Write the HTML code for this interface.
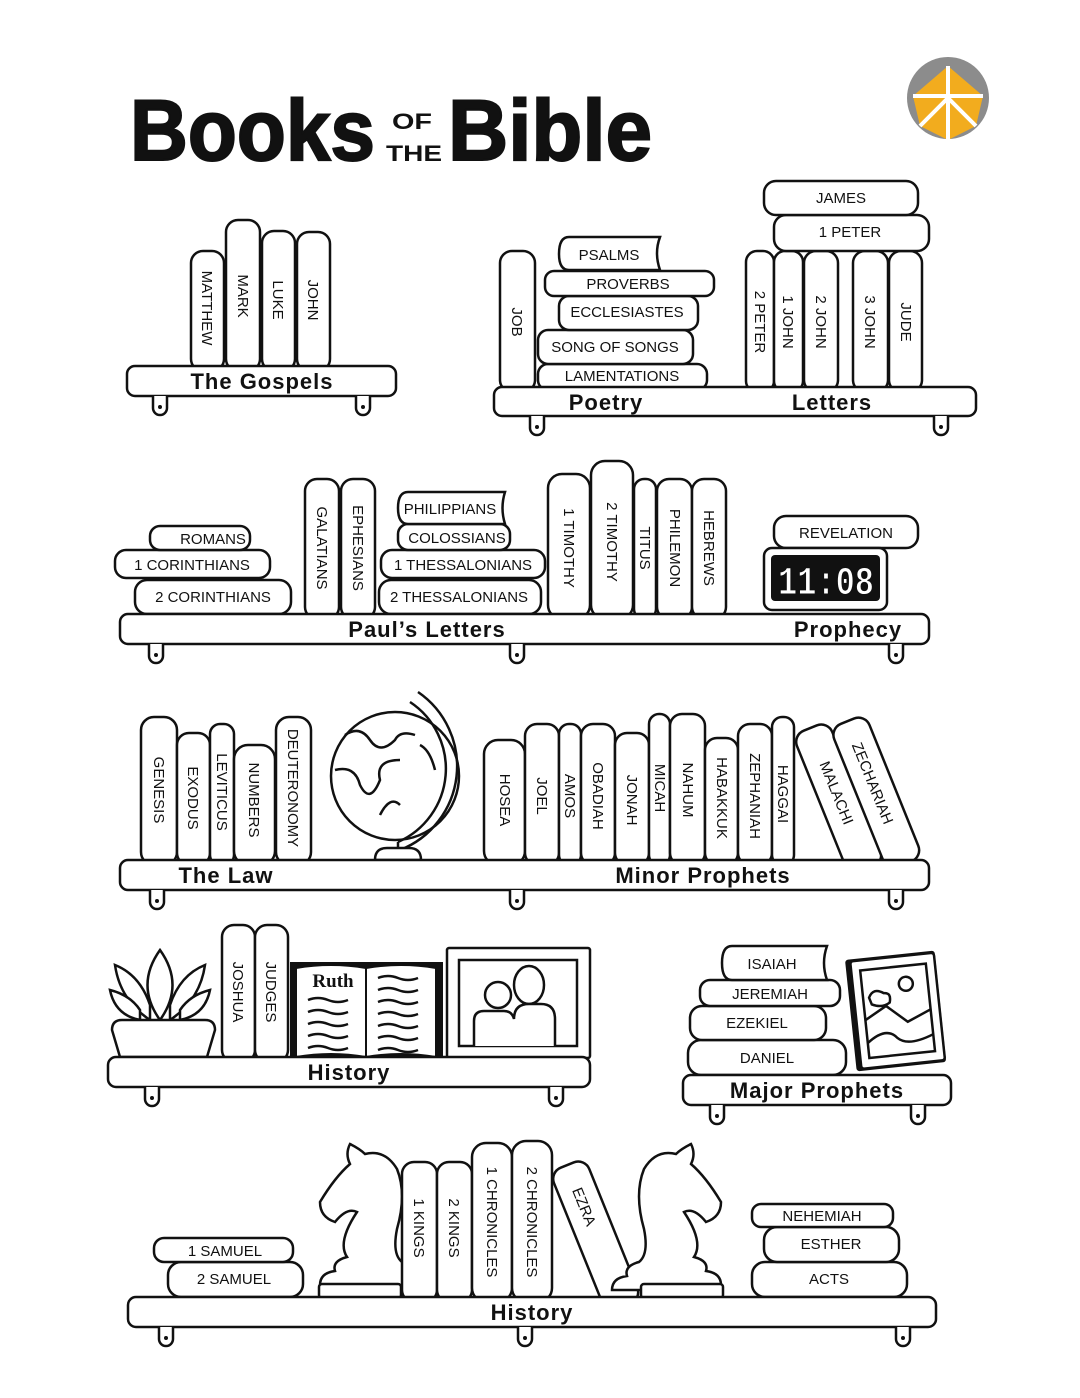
<!DOCTYPE html>
<html><head><meta charset="utf-8"><style>
html,body{margin:0;padding:0;background:#fff}
svg{display:block}
.b{fill:#fff;stroke:#111;stroke-width:2.5}
.t{font-family:"Liberation Sans",sans-serif;font-size:15px;fill:#111}
.s{font-family:"Liberation Sans",sans-serif;font-weight:bold;font-size:22px;fill:#111;letter-spacing:1px}
.k{fill:none;stroke:#111;stroke-width:2.5}
</style></head><body>
<svg width="1080" height="1398" viewBox="0 0 1080 1398" xmlns="http://www.w3.org/2000/svg">
<defs>
<g id="br"><path d="M-7,0 V12 a7,7 0 0 0 14,0 V0" class="b"/><circle cx="0" cy="11" r="2" fill="#111"/></g>
<path id="kn" class="b" d="M320,1285 q0,-12 15,-14 q-3,-10 12,-14 q-10,-15 10,-45 q-10,-5 -22,10 q-15,-5 -15,-20 q15,-25 30,-38 q-5,-10 0,-20 q10,5 15,10 q20,-5 32,15 q10,25 0,60 q-5,25 5,33 q15,4 12,14 q15,2 15,14 h-82Z"/>
</defs>

<!-- Title -->
<text x="130" y="160" font-family="Liberation Sans,sans-serif" font-weight="bold" font-size="86" textLength="245" lengthAdjust="spacingAndGlyphs" fill="#111" stroke="#111" stroke-width="2">Books</text>
<text x="392" y="129" font-family="Liberation Sans,sans-serif" font-weight="bold" font-size="22" textLength="40" lengthAdjust="spacingAndGlyphs" fill="#111">OF</text>
<text x="386" y="161" font-family="Liberation Sans,sans-serif" font-weight="bold" font-size="22" textLength="56" lengthAdjust="spacingAndGlyphs" fill="#111">THE</text>
<text x="448" y="160" font-family="Liberation Sans,sans-serif" font-weight="bold" font-size="86" textLength="204" lengthAdjust="spacingAndGlyphs" fill="#111" stroke="#111" stroke-width="2">Bible</text>

<!-- Logo -->
<circle cx="948" cy="98" r="41" fill="#8c8c8c"/>
<path d="M913,96 L948,66 L983,96 L976,126 L948,140 L920,126Z" fill="#f2ac1e"/>
<path d="M948,66 V140 M913,96 L983,96 M920,126 L948,98 L976,126" stroke="#fff" stroke-width="4" fill="none"/>

<!-- Shelf 1: Gospels -->
<rect class="b" x="191" y="251" width="33" height="120" rx="12"/>
<rect class="b" x="226" y="220" width="34" height="151" rx="12"/>
<rect class="b" x="262" y="231" width="33" height="140" rx="12"/>
<rect class="b" x="297" y="232" width="33" height="139" rx="12"/>
<text class="t" text-anchor="middle" transform="translate(207,308) rotate(90)" dy="5">MATTHEW</text>
<text class="t" text-anchor="middle" transform="translate(243,296) rotate(90)" dy="5">MARK</text>
<text class="t" text-anchor="middle" transform="translate(278,300) rotate(90)" dy="5">LUKE</text>
<text class="t" text-anchor="middle" transform="translate(313,300) rotate(90)" dy="5">JOHN</text>
<rect class="b" x="127" y="366" width="269" height="30" rx="8"/>
<text class="s" x="262" y="389" text-anchor="middle">The Gospels</text>
<use href="#br" x="160" y="396"/><use href="#br" x="363" y="396"/>

<!-- Shelf 2: Poetry / Letters -->
<rect class="b" x="500" y="251" width="35" height="141" rx="12"/>
<text class="t" text-anchor="middle" transform="translate(517,322) rotate(90)" dy="5">JOB</text>
<rect class="b" x="538" y="364" width="169" height="26" rx="10"/>
<text class="t" x="622" y="381" text-anchor="middle">LAMENTATIONS</text>
<rect class="b" x="538" y="330" width="155" height="34" rx="10"/>
<text class="t" x="615" y="352" text-anchor="middle">SONG OF SONGS</text>
<rect class="b" x="559" y="296" width="139" height="34" rx="10"/>
<text class="t" x="627" y="317" text-anchor="middle">ECCLESIASTES</text>
<rect class="b" x="545" y="271" width="169" height="25" rx="9"/>
<text class="t" x="628" y="289" text-anchor="middle">PROVERBS</text>
<path class="b" d="M569,237 H660 q-6,16 0,33 H569 q-10,0 -10,-16 q0,-17 10,-17Z"/>
<text class="t" x="609" y="260" text-anchor="middle">PSALMS</text>
<rect class="b" x="746" y="251" width="28" height="141" rx="11"/>
<rect class="b" x="774" y="251" width="29" height="141" rx="11"/>
<rect class="b" x="804" y="251" width="34" height="141" rx="12"/>
<rect class="b" x="853" y="251" width="35" height="141" rx="12"/>
<rect class="b" x="889" y="251" width="33" height="141" rx="12"/>
<text class="t" text-anchor="middle" transform="translate(760,322) rotate(90)" dy="5">2 PETER</text>
<text class="t" text-anchor="middle" transform="translate(788,322) rotate(90)" dy="5">1 JOHN</text>
<text class="t" text-anchor="middle" transform="translate(821,322) rotate(90)" dy="5">2 JOHN</text>
<text class="t" text-anchor="middle" transform="translate(870,322) rotate(90)" dy="5">3 JOHN</text>
<text class="t" text-anchor="middle" transform="translate(906,322) rotate(90)" dy="5">JUDE</text>
<rect class="b" x="774" y="215" width="155" height="36" rx="12"/>
<text class="t" x="850" y="237" text-anchor="middle">1 PETER</text>
<rect class="b" x="764" y="181" width="154" height="34" rx="12"/>
<text class="t" x="841" y="203" text-anchor="middle">JAMES</text>
<rect class="b" x="494" y="387" width="482" height="29" rx="8"/>
<text class="s" x="606" y="410" text-anchor="middle">Poetry</text>
<text class="s" x="832" y="410" text-anchor="middle">Letters</text>
<use href="#br" x="537" y="416"/><use href="#br" x="941" y="416"/>

<!-- Shelf 3: Paul's Letters / Prophecy -->
<rect class="b" x="135" y="580" width="156" height="34" rx="12"/>
<text class="t" x="213" y="602" text-anchor="middle">2 CORINTHIANS</text>
<rect class="b" x="115" y="550" width="155" height="28" rx="11"/>
<text class="t" x="192" y="570" text-anchor="middle">1 CORINTHIANS</text>
<rect class="b" x="150" y="526" width="100" height="24" rx="10"/>
<text class="t" x="213" y="544" text-anchor="middle">ROMANS</text>
<rect class="b" x="305" y="479" width="34" height="140" rx="12"/>
<rect class="b" x="341" y="479" width="34" height="140" rx="12"/>
<text class="t" text-anchor="middle" transform="translate(322,548) rotate(90)" dy="5">GALATIANS</text>
<text class="t" text-anchor="middle" transform="translate(358,548) rotate(90)" dy="5">EPHESIANS</text>
<rect class="b" x="379" y="580" width="162" height="34" rx="12"/>
<text class="t" x="459" y="602" text-anchor="middle">2 THESSALONIANS</text>
<rect class="b" x="381" y="550" width="164" height="28" rx="11"/>
<text class="t" x="463" y="570" text-anchor="middle">1 THESSALONIANS</text>
<rect class="b" x="398" y="524" width="112" height="26" rx="10"/>
<text class="t" x="457" y="543" text-anchor="middle">COLOSSIANS</text>
<path class="b" d="M408,492 H505 q-5,16 0,32 H408 q-10,0 -10,-16 q0,-16 10,-16Z"/>
<text class="t" x="450" y="514" text-anchor="middle">PHILIPPIANS</text>
<rect class="b" x="548" y="474" width="42" height="145" rx="14"/>
<rect class="b" x="591" y="461" width="42" height="158" rx="14"/>
<rect class="b" x="634" y="479" width="22" height="140" rx="10"/>
<rect class="b" x="657" y="479" width="35" height="140" rx="12"/>
<rect class="b" x="692" y="479" width="34" height="140" rx="12"/>
<text class="t" text-anchor="middle" transform="translate(569,548) rotate(90)" dy="5">1 TIMOTHY</text>
<text class="t" text-anchor="middle" transform="translate(612,542) rotate(90)" dy="5">2 TIMOTHY</text>
<text class="t" text-anchor="middle" transform="translate(645,548) rotate(90)" dy="5">TITUS</text>
<text class="t" text-anchor="middle" transform="translate(675,548) rotate(90)" dy="5">PHILEMON</text>
<text class="t" text-anchor="middle" transform="translate(709,548) rotate(90)" dy="5">HEBREWS</text>
<rect class="b" x="774" y="516" width="144" height="32" rx="12"/>
<text class="t" x="846" y="538" text-anchor="middle">REVELATION</text>
<rect class="b" x="764" y="548" width="123" height="62" rx="8"/>
<rect x="771" y="555" width="109" height="46" rx="4" fill="#111"/>
<text x="826" y="594" text-anchor="middle" font-family="Liberation Mono,monospace" font-weight="bold" font-size="40" textLength="96" lengthAdjust="spacingAndGlyphs" fill="#fff" stroke="#111" stroke-width="1">11:08</text>
<rect class="b" x="120" y="614" width="809" height="30" rx="8"/>
<text class="s" x="427" y="637" text-anchor="middle">Paul’s Letters</text>
<text class="s" x="848" y="637" text-anchor="middle">Prophecy</text>
<use href="#br" x="156" y="644"/><use href="#br" x="517" y="644"/><use href="#br" x="896" y="644"/>

<!-- Shelf 4: Law / Minor Prophets -->
<rect class="b" x="141" y="717" width="36" height="148" rx="13"/>
<rect class="b" x="177" y="733" width="33" height="132" rx="12"/>
<rect class="b" x="210" y="724" width="24" height="141" rx="10"/>
<rect class="b" x="234" y="745" width="41" height="120" rx="14"/>
<rect class="b" x="276" y="717" width="35" height="148" rx="13"/>
<text class="t" text-anchor="middle" transform="translate(159,790) rotate(90)" dy="5">GENESIS</text>
<text class="t" text-anchor="middle" transform="translate(193,798) rotate(90)" dy="5">EXODUS</text>
<text class="t" text-anchor="middle" transform="translate(222,792) rotate(90)" dy="5">LEVITICUS</text>
<text class="t" text-anchor="middle" transform="translate(254,800) rotate(90)" dy="5">NUMBERS</text>
<text class="t" text-anchor="middle" transform="translate(293,788) rotate(90)" dy="5">DEUTERONOMY</text>
<!-- globe -->
<circle class="b" cx="395" cy="776" r="64"/>
<path class="k" d="M410,702 A80,80 0 0 1 398,842"/>
<path class="k" d="M418,692 A90,90 0 0 1 400,850"/>
<path class="k" d="M345,735 q15,-10 25,5 q10,15 25,0 q5,-10 20,-5 M335,770 q20,-5 25,15 q10,20 20,-5 q-5,-20 20,-20 M380,815 q10,-20 20,-10 M420,745 q10,5 15,25"/>
<path class="k" d="M398,842 V848"/>
<path class="b" d="M375,860 q0,-12 12,-12 h22 q12,0 12,12Z"/>
<rect class="b" x="484" y="740" width="41" height="125" rx="14"/>
<rect class="b" x="525" y="724" width="34" height="141" rx="12"/>
<rect class="b" x="559" y="724" width="22" height="141" rx="10"/>
<rect class="b" x="581" y="724" width="34" height="141" rx="12"/>
<rect class="b" x="615" y="733" width="34" height="132" rx="12"/>
<rect class="b" x="649" y="714" width="21" height="151" rx="10"/>
<rect class="b" x="670" y="714" width="35" height="151" rx="12"/>
<rect class="b" x="705" y="738" width="33" height="127" rx="12"/>
<rect class="b" x="738" y="724" width="34" height="141" rx="12"/>
<rect class="b" x="772" y="717" width="22" height="148" rx="10"/>
<text class="t" text-anchor="middle" transform="translate(505,800) rotate(90)" dy="5">HOSEA</text>
<text class="t" text-anchor="middle" transform="translate(542,796) rotate(90)" dy="5">JOEL</text>
<text class="t" text-anchor="middle" transform="translate(570,796) rotate(90)" dy="5">AMOS</text>
<text class="t" text-anchor="middle" transform="translate(598,796) rotate(90)" dy="5">OBADIAH</text>
<text class="t" text-anchor="middle" transform="translate(632,800) rotate(90)" dy="5">JONAH</text>
<text class="t" text-anchor="middle" transform="translate(660,788) rotate(90)" dy="5">MICAH</text>
<text class="t" text-anchor="middle" transform="translate(688,790) rotate(90)" dy="5">NAHUM</text>
<text class="t" text-anchor="middle" transform="translate(722,798) rotate(90)" dy="5">HABAKKUK</text>
<text class="t" text-anchor="middle" transform="translate(755,796) rotate(90)" dy="5">ZEPHANIAH</text>
<text class="t" text-anchor="middle" transform="translate(783,794) rotate(90)" dy="5">HAGGAI</text>
<g transform="translate(884,860) rotate(-22)">
<rect class="b" x="-38" y="-150" width="38" height="152" rx="12"/>
<text class="t" text-anchor="middle" transform="translate(-19,-80) rotate(90)" dy="5">MALACHI</text>
</g>
<g transform="translate(922,855) rotate(-22)">
<rect class="b" x="-38" y="-152" width="38" height="154" rx="12"/>
<text class="t" text-anchor="middle" transform="translate(-19,-85) rotate(90)" dy="5">ZECHARIAH</text>
</g>
<rect class="b" x="120" y="860" width="809" height="30" rx="8"/>
<text class="s" x="226" y="883" text-anchor="middle">The Law</text>
<text class="s" x="703" y="883" text-anchor="middle">Minor Prophets</text>
<use href="#br" x="157" y="890"/><use href="#br" x="517" y="890"/><use href="#br" x="896" y="890"/>

<!-- Shelf 5 left: History -->
<path class="b" d="M160,1020 q-25,-35 0,-70 q25,35 0,70Z"/>
<path class="b" d="M150,1020 q-30,-20 -35,-55 q25,10 35,40Z M170,1020 q30,-20 35,-55 q-25,10 -35,40Z"/>
<path class="b" d="M140,1020 q-25,-5 -30,-30 q20,5 30,20Z M180,1020 q25,-5 30,-30 q-20,5 -30,20Z"/>
<path class="b" d="M112,1030 q0,-10 10,-10 h83 q10,0 10,10 l-8,27 h-87Z"/>
<rect class="b" x="222" y="925" width="33" height="137" rx="12"/>
<rect class="b" x="255" y="925" width="33" height="137" rx="12"/>
<text class="t" text-anchor="middle" transform="translate(238,992) rotate(90)" dy="5">JOSHUA</text>
<text class="t" text-anchor="middle" transform="translate(271,992) rotate(90)" dy="5">JUDGES</text>
<rect x="290" y="962" width="153" height="96" fill="#111"/>
<path d="M296,968 q35,-6 70,0 V1057 q-35,-6 -70,0Z M366,968 q35,-6 70,0 V1057 q-35,-6 -70,0Z" fill="#fff" stroke="#111" stroke-width="2"/>
<text x="333" y="987" text-anchor="middle" font-family="Liberation Serif,serif" font-weight="bold" font-size="19" fill="#111">Ruth</text>
<path class="k" stroke-width="2" d="M308,1000 q10,-4 20,0 t20,0 M308,1012 q10,-4 20,0 t20,0 M308,1024 q10,-4 20,0 t20,0 M308,1036 q10,-4 20,0 t20,0 M308,1048 q10,-4 20,0 t20,0 M378,978 q10,-4 20,0 t20,0 M378,990 q10,-4 20,0 t20,0 M378,1002 q10,-4 20,0 t20,0 M378,1014 q10,-4 20,0 t20,0 M378,1026 q10,-4 20,0 t20,0 M378,1038 q10,-4 20,0 t20,0 M378,1050 q10,-4 20,0 t20,0"/>
<rect class="b" x="447" y="948" width="143" height="110" rx="2"/>
<rect class="b" x="459" y="960" width="118" height="86"/>
<circle class="b" cx="498" cy="995" r="13"/>
<ellipse class="b" cx="529" cy="985" rx="15" ry="19"/>
<path class="b" d="M474,1046 v-25 q0,-10 10,-10 h20 q8,0 10,8 q0,-15 15,-15 h12 q14,0 14,15 v27"/>
<rect class="b" x="108" y="1057" width="482" height="30" rx="8"/>
<text class="s" x="349" y="1080" text-anchor="middle">History</text>
<use href="#br" x="152" y="1087"/><use href="#br" x="556" y="1087"/>

<!-- Shelf 5 right: Major Prophets -->
<rect class="b" x="688" y="1040" width="158" height="35" rx="13"/>
<text class="t" x="767" y="1063" text-anchor="middle">DANIEL</text>
<rect class="b" x="690" y="1006" width="136" height="34" rx="12"/>
<text class="t" x="757" y="1028" text-anchor="middle">EZEKIEL</text>
<rect class="b" x="700" y="980" width="140" height="26" rx="10"/>
<text class="t" x="770" y="999" text-anchor="middle">JEREMIAH</text>
<path class="b" d="M732,946 H827 q-6,17 0,34 H732 q-10,0 -10,-17 q0,-17 10,-17Z"/>
<text class="t" x="772" y="969" text-anchor="middle">ISAIAH</text>
<g transform="translate(845,960) rotate(-6)">
<rect x="0" y="0" width="90" height="112" rx="3" fill="#111"/>
<rect class="b" x="5" y="2" width="84" height="108" rx="3"/>
<rect class="b" x="14" y="12" width="66" height="88"/>
<circle class="k" cx="58" cy="30" r="7"/>
<path class="k" d="M20,40 q5,-10 15,-3 q8,0 5,10 q-8,5 -18,0Z M14,62 l22,-12 l20,18 l24,-10 M14,85 q20,-15 30,-2 q10,10 36,0"/>
</g>
<rect class="b" x="683" y="1075" width="268" height="30" rx="8"/>
<text class="s" x="817" y="1098" text-anchor="middle">Major Prophets</text>
<use href="#br" x="717" y="1105"/><use href="#br" x="918" y="1105"/>

<!-- Shelf 6: History -->
<rect class="b" x="168" y="1262" width="135" height="35" rx="13"/>
<text class="t" x="234" y="1284" text-anchor="middle">2 SAMUEL</text>
<rect class="b" x="154" y="1238" width="139" height="24" rx="10"/>
<text class="t" x="225" y="1256" text-anchor="middle">1 SAMUEL</text>
<use href="#kn"/>
<rect class="b" x="319" y="1284" width="82" height="14" rx="3"/>
<rect class="b" x="402" y="1162" width="35" height="140" rx="12"/>
<rect class="b" x="437" y="1162" width="35" height="140" rx="12"/>
<rect class="b" x="472" y="1143" width="40" height="159" rx="14"/>
<rect class="b" x="512" y="1141" width="40" height="161" rx="14"/>
<text class="t" text-anchor="middle" transform="translate(419,1228) rotate(90)" dy="5">1 KINGS</text>
<text class="t" text-anchor="middle" transform="translate(454,1228) rotate(90)" dy="5">2 KINGS</text>
<text class="t" text-anchor="middle" transform="translate(492,1222) rotate(90)" dy="5">1 CHRONICLES</text>
<text class="t" text-anchor="middle" transform="translate(532,1222) rotate(90)" dy="5">2 CHRONICLES</text>
<g transform="translate(641,1297) rotate(-22)">
<rect class="b" x="-38" y="-150" width="38" height="152" rx="12"/>
<text class="t" text-anchor="middle" transform="translate(-19,-105) rotate(90)" dy="5">EZRA</text>
</g>
<use href="#kn" transform="translate(1041,0) scale(-1,1)"/>
<rect class="b" x="641" y="1284" width="82" height="14" rx="3"/>
<rect class="b" x="752" y="1262" width="155" height="35" rx="13"/>
<text class="t" x="829" y="1284" text-anchor="middle">ACTS</text>
<rect class="b" x="764" y="1227" width="135" height="35" rx="13"/>
<text class="t" x="831" y="1249" text-anchor="middle">ESTHER</text>
<rect class="b" x="752" y="1204" width="141" height="23" rx="9"/>
<text class="t" x="822" y="1221" text-anchor="middle">NEHEMIAH</text>
<rect class="b" x="128" y="1297" width="808" height="30" rx="8"/>
<text class="s" x="532" y="1320" text-anchor="middle">History</text>
<use href="#br" x="166" y="1327"/><use href="#br" x="525" y="1327"/><use href="#br" x="903" y="1327"/>
</svg>
</body></html>
